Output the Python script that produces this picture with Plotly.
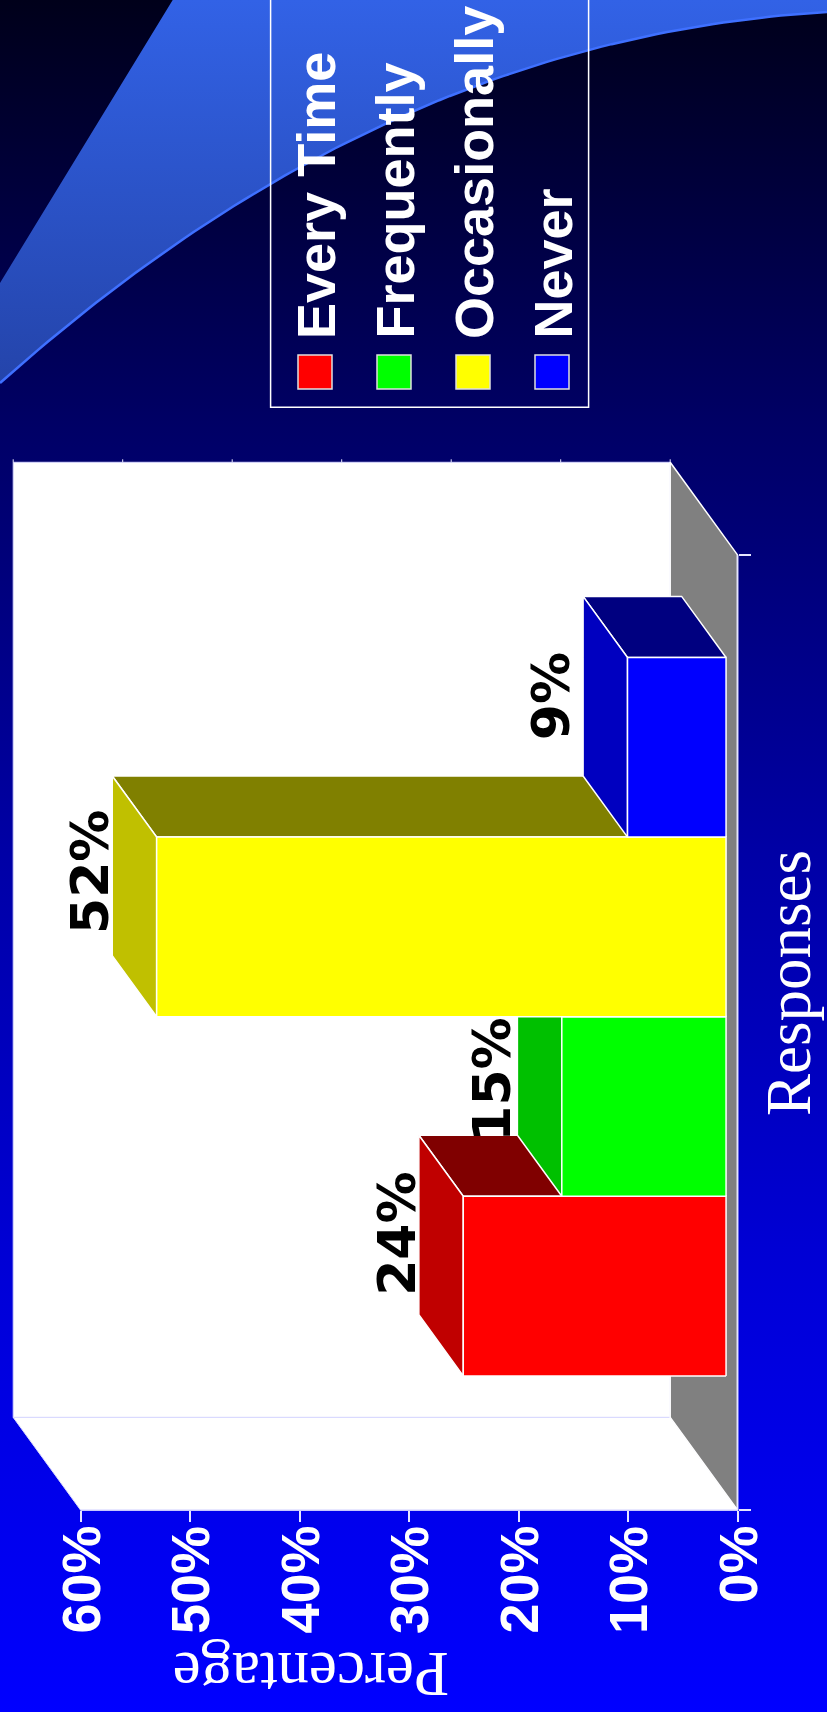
import numpy as np
import plotly.graph_objects as go

# ---------------- data ----------------
categories = ["Every Time", "Frequently", "Occasionally", "Never"]
values = [24, 15, 52, 9]
bar_labels = ["24%", "15%", "52%", "9%"]
value_ticks = [0, 10, 20, 30, 40, 50, 60]
tick_labels = ["0%", "10%", "20%", "30%", "40%", "50%", "60%"]
value_title = "Percentage"
category_title = "Responses"

# ---------------- styles ----------------
front_colors = ["#ff0000", "#00ff00", "#ffff00", "#0000ff"]
end_colors = ["#c00000", "#00c000", "#c0c000", "#0000c0"]
top_colors = ["#800000", "#008000", "#808000", "#000080"]
label_shift = [(-22, -9), (-25, -34), (-22, -6), (-32, -10)]  # px nudges per label

W, H = 827, 1712
ZERO_PX = 737.5        # px position of 0% on the front plane
PX_PER_PCT = 10.95
BOTTOM_PX = 1510       # px position of the front category-axis bottom
PX_PER_CAT = 179.6
CAT_GAP = 0.659
DEPTH_PX = (67.3, 92.6)
BAR_DEPTH = (0.17, 0.83)
DOM_PX_X = (0, 762)
DOM_PX_Y = (440, 1532)
AXIS_COLOR = "#e6e6ff"
SANS = "Liberation Sans"
SERIF = "Liberation Serif"
TICK_LEN = 11
TICK_LABEL_GAP = 14

n = len(categories)
vmax = max(value_ticks)
c_lo = -0.5 - CAT_GAP
c_hi = n - 0.5 + CAT_GAP


def px_to_val(px):
    return (ZERO_PX - px) / PX_PER_PCT


def py_to_cat(py):
    return c_lo + (BOTTOM_PX - py) / PX_PER_CAT


x_range = [px_to_val(DOM_PX_X[0]), px_to_val(DOM_PX_X[1])]
y_range = [py_to_cat(DOM_PX_Y[1]), py_to_cat(DOM_PX_Y[0])]
dv = DEPTH_PX[0] / PX_PER_PCT
dc = DEPTH_PX[1] / PX_PER_CAT
a1, a2 = dv * BAR_DEPTH[0], dv * BAR_DEPTH[1]
b1, b2 = dc * BAR_DEPTH[0], dc * BAR_DEPTH[1]

fig = go.Figure()

# ---------------- background (paper-like axes x/y) ----------------
BG_SCALE = [[0, "#00001a"], [0.25, "#000066"], [0.5, "#0000a6"],
            [0.75, "#0000d8"], [1, "#0000ff"]]
fig.add_trace(go.Scatter(
    x=[0, W, W, 0, 0], y=[0, 0, H, H, 0], mode="lines", fill="toself",
    line=dict(width=0), fillgradient=dict(type="vertical", colorscale=BG_SCALE,
                                          start=0, stop=H),
    xaxis="x", yaxis="y", hoverinfo="skip", showlegend=False))

t = np.linspace(0, 1, 80)
P0, P1, P2, P3 = (0, 383), (250, 160), (520, 30), (W, 12)
cx = ((1 - t) ** 3) * P0[0] + 3 * ((1 - t) ** 2) * t * P1[0] + 3 * (1 - t) * t ** 2 * P2[0] + t ** 3 * P3[0]
cy = ((1 - t) ** 3) * P0[1] + 3 * ((1 - t) ** 2) * t * P1[1] + 3 * (1 - t) * t ** 2 * P2[1] + t ** 3 * P3[1]
sx = [172.7, W] + list(cx[::-1]) + [0, 172.7]
sy = [0, 0] + list(cy[::-1]) + [283, 0]
fig.add_trace(go.Scatter(
    x=sx, y=sy, mode="lines", fill="toself", line=dict(width=0),
    fillgradient=dict(type="vertical",
                      colorscale=[[0, "#3262e6"], [1, "#2444aa"]],
                      start=0, stop=383),
    xaxis="x", yaxis="y", hoverinfo="skip", showlegend=False))
fig.add_trace(go.Scatter(
    x=list(cx), y=list(cy), mode="lines", line=dict(color="#3f70ff", width=2.5),
    xaxis="x", yaxis="y", hoverinfo="skip", showlegend=False))


# ---------------- chart (value / category axes x2/y2) ----------------
def poly(xs, ys, fill, line_color="white", lw=1.5):
    fig.add_trace(go.Scatter(
        x=list(xs) + [xs[0]], y=list(ys) + [ys[0]], mode="lines", fill="toself",
        fillcolor=fill, line=dict(color=line_color, width=lw),
        xaxis="x2", yaxis="y2", hoverinfo="skip", showlegend=False))


# back wall
poly([dv, vmax + dv, vmax + dv, dv], [c_lo + dc, c_lo + dc, c_hi + dc, c_hi + dc],
     "white", "#d8d8ff", 1)
# side wall
poly([0, vmax, vmax + dv, dv], [c_lo, c_lo, c_lo + dc, c_lo + dc], "white", "#d8d8ff", 1)
# floor
poly([0, 0, dv, dv], [c_lo, c_hi, c_hi + dc, c_lo + dc], "#808080", "white", 1.5)

# small ticks along the back wall top edge
tx, ty = [], []
for v in value_ticks:
    tx += [v + dv, v + dv, None]
    ty += [c_hi + dc, c_hi + dc + 3 / PX_PER_CAT, None]
fig.add_trace(go.Scatter(x=tx, y=ty, mode="lines", line=dict(color=AXIS_COLOR, width=1),
                         xaxis="x2", yaxis="y2", hoverinfo="skip", showlegend=False))

# axis lines
fig.add_trace(go.Scatter(x=[vmax, 0, 0], y=[c_lo, c_lo, c_hi], mode="lines",
                         line=dict(color=AXIS_COLOR, width=1.5),
                         xaxis="x2", yaxis="y2", hoverinfo="skip", showlegend=False))

# 3D bars
for i, v in enumerate(values):
    lo, hi = i - 0.5, i + 0.5
    poly([a1, a1 + v, a2 + v, a2], [hi + b1, hi + b1, hi + b2, hi + b2], top_colors[i])
    poly([a1 + v, a1 + v, a2 + v, a2 + v], [lo + b1, hi + b1, hi + b2, lo + b2], end_colors[i])
    poly([a1, a1 + v, a1 + v, a1], [lo + b1, lo + b1, hi + b1, hi + b1], front_colors[i])

annotations = []
for i, v in enumerate(values):
    annotations.append(dict(
        x=v + a2, y=i + b2, xref="x2", yref="y2", text=bar_labels[i],
        textangle=-90, showarrow=False, xanchor="center", yanchor="middle",
        xshift=label_shift[i][0], yshift=label_shift[i][1],
        font=dict(family="DejaVu Sans", size=52, color="black", weight="bold")))

# value-axis tick labels (rotated), placed at the axis' tick values
for v, lab in zip(value_ticks, tick_labels):
    annotations.append(dict(
        x=v, y=c_lo, xref="x2", yref="y2", text=lab, textangle=-90,
        showarrow=False, xanchor="center", yanchor="top", yshift=-TICK_LABEL_GAP,
        font=dict(family=SANS, size=54, color="white", weight="bold")))

# axis titles
annotations.append(dict(x=789 / W, y=1 - 983 / H, xref="paper", yref="paper",
                        text=category_title, textangle=-90, showarrow=False,
                        xanchor="center", yanchor="middle",
                        font=dict(family=SERIF, size=63, color="white")))
annotations.append(dict(x=311 / W, y=1 - 1674 / H, xref="paper", yref="paper",
                        text=value_title, textangle=180, showarrow=False,
                        xanchor="center", yanchor="middle",
                        font=dict(family=SERIF, size=63, color="white")))

# legend (rotated, built from categories/colors)
shapes = []
LEG_X0, LEG_DX = 315, 79
shapes.append(dict(type="path", xref="paper", yref="paper",
                   path="M {a},{t} L {a},{b} L {c},{b} L {c},{t}".format(
                       a=270.6 / W, c=588.6 / W, b=1 - 407.3 / H, t=1.0),
                   line=dict(color="white", width=1.5)))
for k, name in enumerate(categories):
    cxk = LEG_X0 + LEG_DX * k
    shapes.append(dict(type="rect", xref="paper", yref="paper",
                       x0=(cxk - 17) / W, x1=(cxk + 17) / W,
                       y0=1 - 389 / H, y1=1 - 355 / H,
                       line=dict(color="#e0e0e0", width=1.5), fillcolor=front_colors[k]))
    annotations.append(dict(x=(cxk + 0.5) / W, y=1 - 341 / H, xref="paper", yref="paper",
                            text=name, textangle=-90, showarrow=False,
                            xanchor="center", yanchor="bottom",
                            font=dict(family=SANS, size=54, color="white", weight="bold")))

fig.update_layout(
    width=W, height=H, margin=dict(l=0, r=0, t=0, b=0),
    paper_bgcolor="#000080", plot_bgcolor="rgba(0,0,0,0)",
    showlegend=False, annotations=annotations, shapes=shapes,
    xaxis=dict(domain=[0, 1], range=[0, W], visible=False, fixedrange=True),
    yaxis=dict(domain=[0, 1], range=[H, 0], visible=False, fixedrange=True),
    xaxis2=dict(domain=[DOM_PX_X[0] / W, DOM_PX_X[1] / W], range=x_range,
                anchor="free", position=1 - BOTTOM_PX / H,
                tickmode="array", tickvals=value_ticks,
                ticks="outside", ticklen=TICK_LEN, tickwidth=1.5, tickcolor=AXIS_COLOR,
                showticklabels=False, showgrid=False, zeroline=False, showline=False,
                fixedrange=True),
    yaxis2=dict(domain=[1 - DOM_PX_Y[1] / H, 1 - DOM_PX_Y[0] / H], range=y_range,
                anchor="free", position=ZERO_PX / W, side="right",
                tickmode="array", tickvals=[c_lo, c_hi], ticks="outside",
                ticklen=12, tickwidth=1.5, tickcolor=AXIS_COLOR,
                showticklabels=False, showgrid=False, zeroline=False, showline=False,
                fixedrange=True),
)

fig.write_html("out.html", config={"displayModeBar": False},
               post_script="document.body.style.margin='0';")
